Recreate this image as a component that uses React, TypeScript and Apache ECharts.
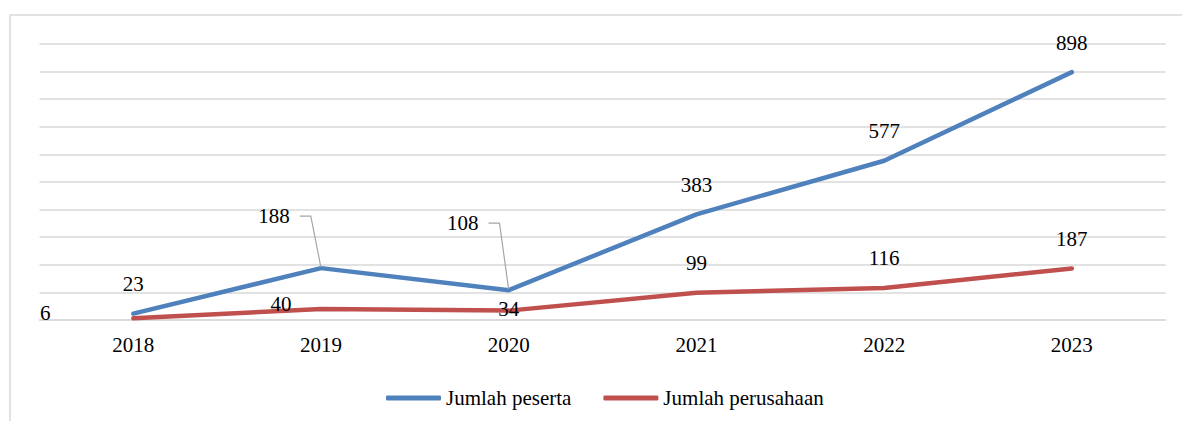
import React, { useEffect, useRef } from "react";
import * as echarts from "echarts";

const years = ["2018", "2019", "2020", "2021", "2022", "2023"];
const pesertaName = "Jumlah peserta";
const perusahaanName = "Jumlah perusahaan";
const peserta = [23, 188, 108, 383, 577, 898];
const perusahaan = [6, 40, 34, 99, 116, 187];

// label layout tweaks (pixels), separate from data
const pesertaLabelShift: number[][] = [[0, 0], [-72, -22.5], [-71, -37.5], [0, 0], [0, 0], [0, 0]];
const pesertaLeader = [false, true, true, false, false, false];
const perusahaanLabelShift: number[][] = [[-88, 24], [-40, 24.5], [0, 28], [0, 0], [0, 0], [0, 0]];

const FONT = "'Liberation Serif', 'Times New Roman', serif";
const FS = 21;
const BLUE = "#4f81bd";
const RED = "#c0504d";
const GRID = "#d9d9d9";

export default function App() {
  const ref = useRef<HTMLDivElement>(null);
  useEffect(() => {
    if (!ref.current) return;
    const chart = echarts.init(ref.current, null, { renderer: "svg" });
    const labelBase = {
      show: true,
      position: "top",
      distance: 18,
      fontFamily: FONT,
      fontSize: FS,
      color: "#000",
    };
    chart.setOption({
      animation: false,
      backgroundColor: "#fff",
      textStyle: { fontFamily: FONT },
      grid: { left: 39.5, right: 16.3, top: 44, bottom: 101, outerBoundsMode: "none", containLabel: false },
      xAxis: {
        type: "category",
        data: years,
        boundaryGap: true,
        axisLine: { show: true, lineStyle: { color: GRID, width: 1.5 } },
        axisTick: { show: false },
        axisLabel: { margin: 14, fontFamily: FONT, fontSize: FS, color: "#000" },
        splitLine: { show: false },
      },
      yAxis: {
        type: "value",
        min: 0,
        max: 1000,
        interval: 100,
        axisLine: { show: false },
        axisTick: { show: false },
        axisLabel: { show: false },
        splitLine: { show: true, lineStyle: { color: GRID, width: 1.5 } },
      },
      legend: {
        left: 381,
        top: 382.5,
        icon: "roundRect",
        itemWidth: 55,
        itemHeight: 5,
        itemGap: 32,
        textStyle: { fontFamily: FONT, fontSize: FS, color: "#000" },
        data: [pesertaName, perusahaanName],
      },
      graphic: [
        { type: "line", shape: { x1: 10, y1: 15, x2: 10, y2: 421 }, style: { stroke: GRID, lineWidth: 1.5 } },
        { type: "line", shape: { x1: 10, y1: 15, x2: 1182, y2: 15 }, style: { stroke: GRID, lineWidth: 1.5 } },
      ],
      series: [
        {
          name: pesertaName,
          type: "line",
          data: peserta.map((v, i) =>
            pesertaLeader[i]
              ? {
                  value: v,
                  label: { padding: [0, 10, 0, 60], backgroundColor: "rgba(255,255,255,0)" },
                  labelLine: { show: true, length2: 11, lineStyle: { color: "#a6a6a6", width: 1.2 } },
                }
              : v
          ),
          symbol: "circle",
          symbolSize: 2,
          showSymbol: true,
          itemStyle: { color: BLUE },
          lineStyle: { color: BLUE, width: 4.5, cap: "round", join: "round" },
          label: labelBase,
          labelLayout: (p: any) => ({ dx: pesertaLabelShift[p.dataIndex][0], dy: pesertaLabelShift[p.dataIndex][1] }),
        },
        {
          name: perusahaanName,
          type: "line",
          data: perusahaan,
          symbol: "circle",
          symbolSize: 2,
          showSymbol: true,
          itemStyle: { color: RED },
          lineStyle: { color: RED, width: 4.5, cap: "round", join: "round" },
          label: labelBase,
          labelLayout: (p: any) => ({ dx: perusahaanLabelShift[p.dataIndex][0], dy: perusahaanLabelShift[p.dataIndex][1] }),
        },
      ],
    });
    return () => chart.dispose();
  }, []);
  return <div ref={ref} style={{ position: "absolute", left: 0, top: 0, width: 1182, height: 421 }} />;
}
